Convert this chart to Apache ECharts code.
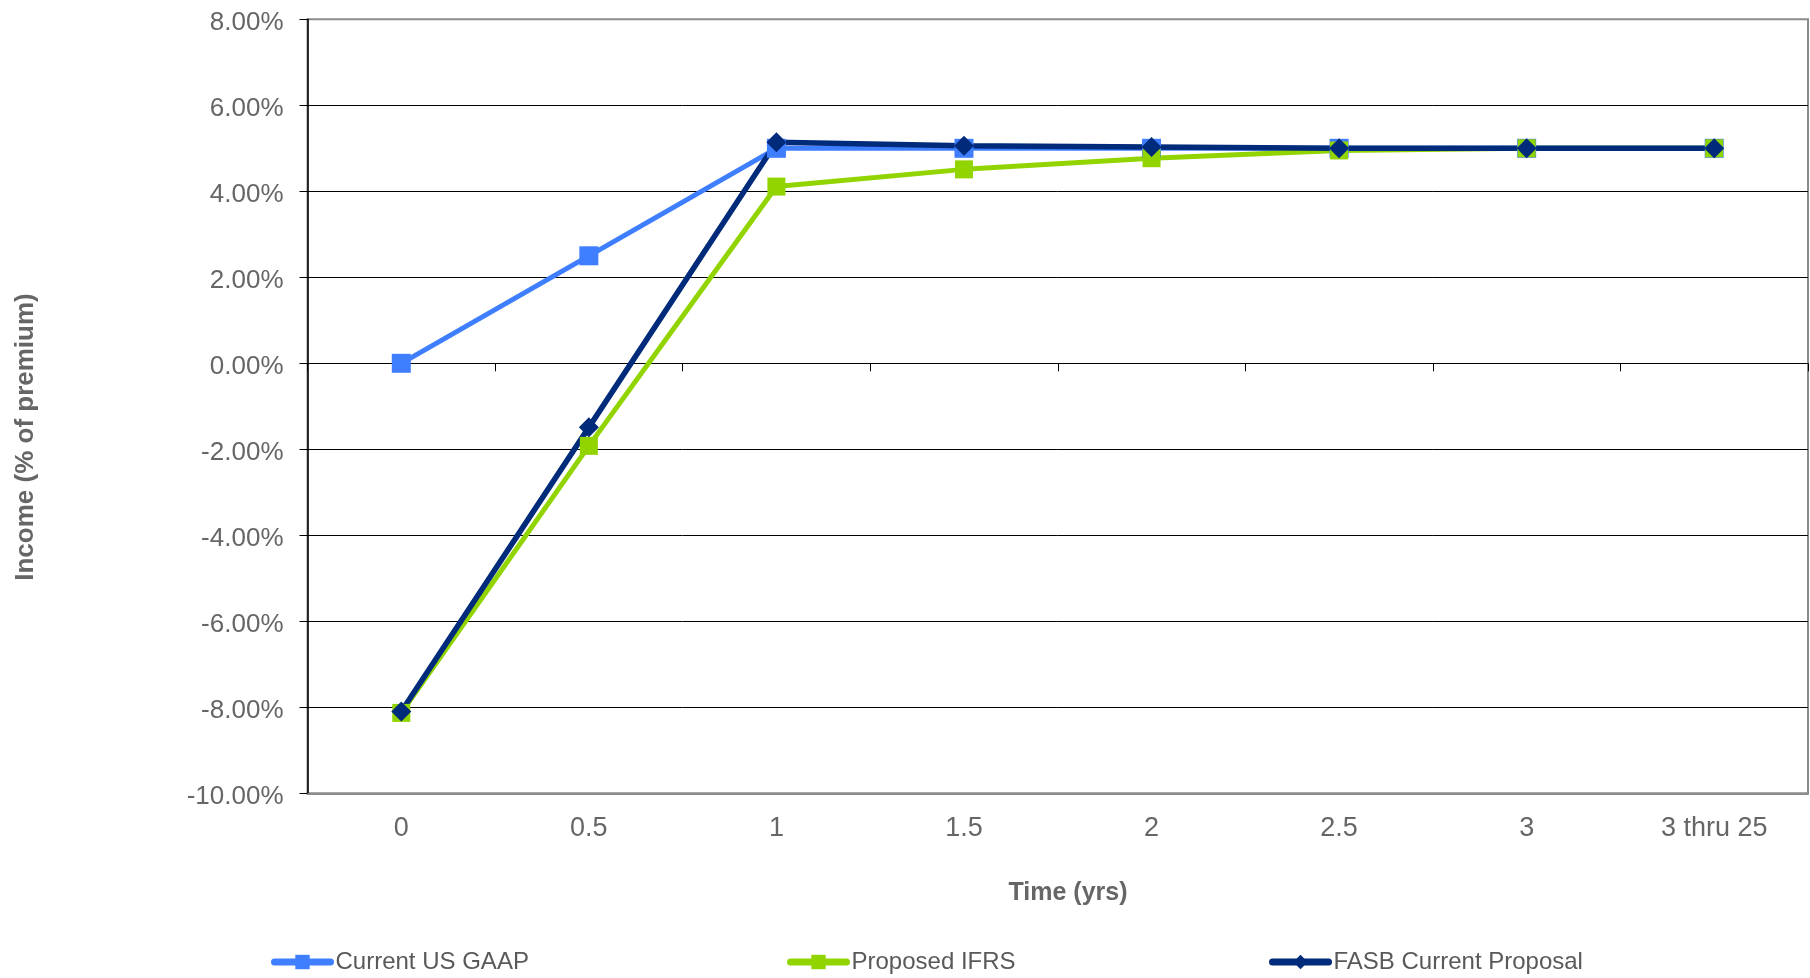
<!DOCTYPE html>
<html>
<head>
<meta charset="utf-8">
<script src="https://cdn.jsdelivr.net/npm/echarts@6/dist/echarts.min.js"></script>
<style>
  html, body { margin: 0; padding: 0; background: #fff; }
  #chart { width: 1810px; height: 978px; }
</style>
</head>
<body>
<div id="chart"></div>
<script>
// categories and values (percent of premium)
const categories = ['0', '0.5', '1', '1.5', '2', '2.5', '3', '3 thru 25']
const usGaap = [0.0, 2.5, 5.0, 5.0, 5.0, 5.0, 5.0, 5.0]
const proposedIfrs = [-8.13, -1.92, 4.11, 4.51, 4.77, 4.95, 5.0, 5.0]
const fasbProposal = [-8.1, -1.49, 5.14, 5.06, 5.03, 5.0, 5.0, 5.0]
const yMin = -10
const yMax = 8
const yStep = 2

const font = 'Arial, "Liberation Sans", sans-serif'
const chart = echarts.init(document.getElementById('chart'))

const legendText = { fontSize: 24, color: '#595959', fontFamily: font }
const legendBase = {
  top: 945,
  itemWidth: 56,
  itemHeight: 18,
  textStyle: legendText,
  lineStyle: { width: 7, cap: 'round' }
}

const option = {
  animation: false,
  grid: {
    left: 307.5,
    right: 2,
    top: 19.3,
    bottom: 184.7,
    show: true,
    borderColor: '#8c8c8c',
    borderWidth: 2
  },
  legend: [
    Object.assign({ data: ['Current US GAAP'], left: 266 }, legendBase),
    Object.assign({ data: ['Proposed IFRS'], left: 782 }, legendBase),
    Object.assign({ data: ['FASB Current Proposal'], left: 1264 }, legendBase)
  ],
  graphic: [
    {
      type: 'text',
      x: 26,
      y: 437,
      rotation: Math.PI / 2,
      style: {
        text: 'Income (% of premium)',
        fill: '#666',
        font: 'bold 26px ' + font,
        textAlign: 'center',
        textVerticalAlign: 'middle'
      }
    },
    {
      type: 'text',
      x: 1068,
      y: 893,
      style: {
        text: 'Time (yrs)',
        fill: '#666',
        font: 'bold 25px ' + font,
        textAlign: 'center',
        textVerticalAlign: 'middle'
      }
    }
  ],
  xAxis: [
    {
      type: 'category',
      data: categories,
      boundaryGap: true,
      position: 'bottom',
      axisLine: { onZero: false, lineStyle: { color: '#8c8c8c', width: 2 } },
      axisTick: { show: false },
      axisLabel: { fontSize: 27, color: '#666', margin: 22, fontFamily: font },
      splitLine: { show: false }
    },
    {
      type: 'category',
      data: categories,
      boundaryGap: true,
      position: 'bottom',
      axisLine: { onZero: true, lineStyle: { color: '#000', width: 1 } },
      axisTick: { show: true, length: 8, lineStyle: { color: '#000' } },
      axisLabel: { show: false },
      splitLine: { show: false }
    }
  ],
  yAxis: {
    type: 'value',
    min: yMin,
    max: yMax,
    interval: yStep,
    axisLine: { show: true, lineStyle: { color: '#000', width: 1.5 } },
    axisTick: { show: true, length: 8, lineStyle: { color: '#000' } },
    axisLabel: {
      margin: 24,
      formatter: v => '{t|' + v.toFixed(2) + '%}',
      rich: {
        t: { fontSize: 26, color: '#666', fontFamily: font, padding: [7, 0, 0, 0] }
      }
    },
    splitLine: { show: true, showMinLine: false, showMaxLine: false, lineStyle: { color: '#000', width: 1 } }
  },
  series: [
    {
      name: 'Current US GAAP',
      type: 'line',
      data: usGaap,
      symbol: 'rect',
      symbolSize: 19,
      lineStyle: { color: '#3f7fff', width: 5 },
      itemStyle: { color: '#3f7fff' }
    },
    {
      name: 'Proposed IFRS',
      type: 'line',
      data: proposedIfrs,
      symbol: 'rect',
      symbolSize: 18,
      lineStyle: { color: '#92d400', width: 5 },
      itemStyle: { color: '#92d400' }
    },
    {
      name: 'FASB Current Proposal',
      type: 'line',
      data: fasbProposal,
      symbol: 'diamond',
      symbolSize: 20,
      lineStyle: { color: '#002a7a', width: 5.5 },
      itemStyle: { color: '#002a7a' }
    }
  ]
}

chart.setOption(option)
</script>
</body>
</html>
